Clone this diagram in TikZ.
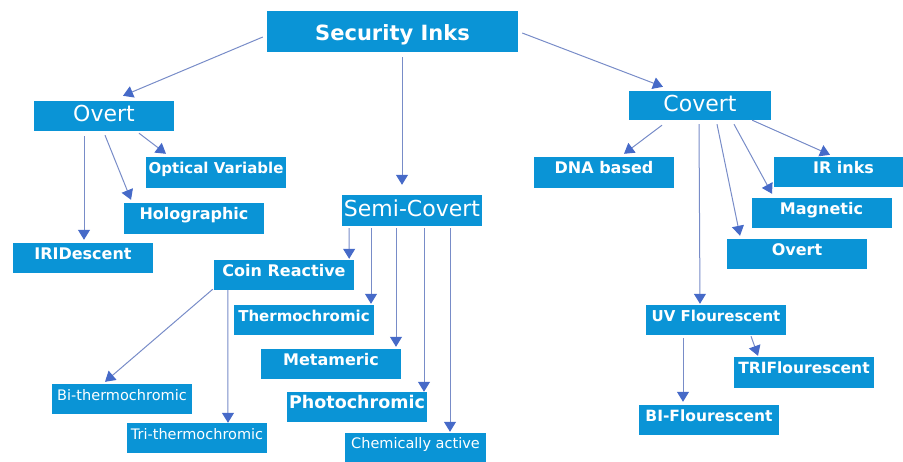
\documentclass[tikz,border=0pt]{standalone}
\usepackage{fontspec}
\setmainfont{DejaVu Sans}
\usetikzlibrary{arrows.meta,calc}
\definecolor{boxblue}{RGB}{10,148,214}
\definecolor{linkgray}{RGB}{120,140,200}
\definecolor{tipblue}{RGB}{70,106,200}
\tikzset{
  inkbox/.style={fill=boxblue, text=white, minimum width=140pt, minimum height=30pt, inner sep=0pt, anchor=center, text height=11pt, text depth=8pt},
  headfont/.style={font=\fontsize{21}{23}\selectfont\bfseries, text height=20pt, text depth=2pt},
  catfont/.style={font=\fontsize{22}{24}\selectfont, text height=16pt, text depth=4pt},
  itemfont/.style={font=\fontsize{16}{18}\selectfont\bfseries},
  smallfont/.style={font=\fontsize{14.5}{16}\selectfont},
  link/.style={draw=linkgray, line width=1pt, -{Triangle[length=10pt,width=12pt,color=tipblue]}},
}
\begin{document}
\begin{tikzpicture}[x=1pt,y=-1pt]
\useasboundingbox (0,0) rectangle (903,462);
% top level
\node[inkbox, headfont, minimum width=251pt, minimum height=41pt] (sec) at (392.5, 31.5) {Security Inks};
\node[inkbox, catfont] (overt) at (104, 116) {Overt};
\node[inkbox, catfont, minimum height=31pt] (semi) at (412, 210.5) {Semi-Covert};
\node[inkbox, catfont, minimum width=142pt, minimum height=29pt] (covert) at (700, 105.5) {Covert};
% overt branch
\node[inkbox, itemfont, minimum height=31pt, font=\fontsize{15}{17}\selectfont\bfseries] (optvar) at (216, 172.5) {Optical Variable};
\node[inkbox, itemfont, minimum height=31pt] (holo) at (194, 218.5) {Holographic};
\node[inkbox, itemfont] (irid) at (83, 258) {IRIDescent};
% semi-covert branch
\node[inkbox, itemfont] (coin) at (284, 275) {Coin Reactive};
\node[inkbox, itemfont, font=\fontsize{15}{17}\selectfont\bfseries] (thermo) at (304, 320) {Thermochromic};
\node[inkbox, itemfont] (meta) at (331, 364) {Metameric};
\node[inkbox, itemfont, font=\fontsize{17.5}{19}\selectfont\bfseries] (photo) at (357, 407) {Photochromic};
\node[inkbox, smallfont, minimum width=141pt, minimum height=29pt] (chem) at (415.5, 447.5) {Chemically active};
\node[inkbox, smallfont] (bith) at (122, 399) {Bi-thermochromic};
\node[inkbox, smallfont] (trith) at (197, 438) {Tri-thermochromic};
% covert branch
\node[inkbox, itemfont, minimum height=31pt] (dna) at (604, 172.5) {DNA based};
\node[inkbox, itemfont, minimum width=129pt] (irinks) at (838.5, 172) {\hspace*{10pt}IR inks};
\node[inkbox, itemfont] (magnetic) at (821.5, 213) {Magnetic};
\node[inkbox, itemfont] (overtb) at (797, 254) {Overt};
\node[inkbox, itemfont, font=\fontsize{15}{17}\selectfont\bfseries] (uv) at (716, 320) {UV Flourescent};
\node[inkbox, itemfont, minimum height=31pt, font=\fontsize{15.5}{17}\selectfont\bfseries] (tri) at (804, 372.5) {TRIFlourescent};
\node[inkbox, itemfont, font=\fontsize{15.5}{17}\selectfont\bfseries] (bi) at (709, 420) {BI-Flourescent};
% links
\draw[link] ($(sec.west)+(-4,5.5)$) -- ($(overt.north)+(19,-5)$);
\draw[link] ($(sec.south)+(9.5,5)$) -- ($(semi.north)+(-10,-10)$);
\draw[link] ($(sec.east)+(4,1.5)$) -- ($(covert.north)+(-37,-4)$);
\draw[link] ($(overt.south)+(35,2)$) -- ($(optvar.north)+(-50,-3)$);
\draw[link] ($(overt.south)+(1,4)$) -- ($(holo.north)+(-63,-3)$);
\draw[link] ($(overt.south)+(-20,5)$) -- ($(irid.north)+(1,-3)$);
\draw[link] ($(semi.south)+(-63,2)$) -- ($(coin.north east)+(-5,-1)$);
\draw[link] ($(semi.south)+(-41,2)$) -- ($(thermo.north)+(67,-1)$);
\draw[link] ($(semi.south)+(-16,2)$) -- ($(meta.north)+(65,-2)$);
\draw[link] ($(semi.south)+(12,2)$) -- ($(photo.north)+(67,0)$);
\draw[link] ($(semi.south)+(38,2)$) -- ($(chem.north)+(34.5,-1)$);
\draw[link] ($(coin.south west)+(-1,-1)$) -- ($(bith.north)+(-17,-2)$);
\draw[link] ($(coin.south west)+(14,0)$) -- ($(trith.north)+(31,0)$);
\draw[link] ($(covert.south)+(-38,5)$) -- ($(dna.north)+(20,-3)$);
\draw[link] ($(covert.south)+(-1,4)$) -- ($(uv.north)+(-16,-1)$);
\draw[link] ($(covert.south)+(17,4)$) -- ($(overtb.north)+(-57,-3)$);
\draw[link] ($(covert.south)+(34,4)$) -- ($(magnetic.north)+(-49.5,-4)$);
\draw[link] ($(covert.south east)+(-19,0)$) -- ($(irinks.north)+(-8.5,-2)$);
\draw[link] ($(uv.south)+(35,1)$) -- ($(tri.north)+(-46,-1)$);
\draw[link] ($(uv.south)+(-33,3)$) -- ($(bi.north)+(-26,-3)$);
\end{tikzpicture}
\end{document}
